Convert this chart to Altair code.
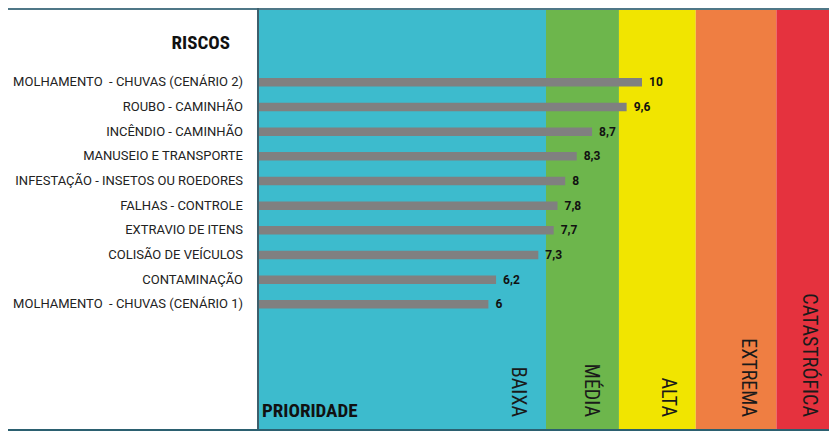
import altair as alt
import pandas as pd

# ---- data ----
riscos = [
    "MOLHAMENTO\u00a0 - CHUVAS (CENÁRIO 2)",
    "ROUBO - CAMINHÃO",
    "INCÊNDIO - CAMINHÃO",
    "MANUSEIO E TRANSPORTE",
    "INFESTAÇÃO - INSETOS OU ROEDORES",
    "FALHAS - CONTROLE",
    "EXTRAVIO DE ITENS",
    "COLISÃO DE VEÍCULOS",
    "CONTAMINAÇÃO",
    "MOLHAMENTO\u00a0 - CHUVAS (CENÁRIO 1)",
]
valores = [10, 9.6, 8.7, 8.3, 8, 7.8, 7.7, 7.3, 6.2, 6]

faixas = ["BAIXA", "MÉDIA", "ALTA", "EXTREMA", "CATASTRÓFICA"]
faixa_inicio = [0, 7.5, 9.4, 11.4, 13.5]
faixa_fim = [7.5, 9.4, 11.4, 13.5, 15.08]
faixa_cores = ["#3dbbcd", "#6db64c", "#f1e500", "#ef7e42", "#e5323e"]

df = pd.DataFrame({
    "risco": riscos,
    "valor": valores,
    "ordem": list(range(len(riscos))),
})
df["rotulo"] = [("%g" % v).replace(".", ",") for v in valores]

bandas = pd.DataFrame({
    "faixa": faixas,
    "inicio": faixa_inicio,
    "fim": faixa_fim,
})

W, H = 571, 421
xs = alt.Scale(domain=[0, 14.87], nice=False, zero=False)
ys = alt.Scale(domain=[-2.81, 13.85], nice=False, zero=False, reverse=True)

NARROW = "Liberation Sans Narrow, Roboto Condensed, DejaVu Sans Condensed, sans-serif"

fundo = alt.Chart(bandas).mark_rect(clip=True).encode(
    x=alt.X("inicio:Q", scale=xs, axis=None),
    x2="fim:Q",
    color=alt.Color("faixa:N", scale=alt.Scale(domain=faixas, range=faixa_cores), legend=None),
)

rot_faixas = alt.Chart(bandas).mark_text(
    angle=90, align="right", baseline="alphabetic", xOffset=-34,
    font=NARROW, fontSize=20, color="#1a1a1a",
).encode(
    x=alt.X("fim:Q", scale=xs, axis=None),
    y=alt.value(H - 12),
    text="faixa:N",
)

barras = alt.Chart(df).mark_bar(orient="horizontal", size=8.5, color="#808080").encode(
    x=alt.X("valor:Q", scale=xs, axis=None),
    y=alt.Y("ordem:Q", scale=ys, axis=None),
)

rot_valores = alt.Chart(df).mark_text(
    align="left", baseline="middle", dx=7, font="Roboto", fontWeight="bold",
    fontSize=12, color="#111111",
).encode(
    x=alt.X("valor:Q", scale=xs, axis=None),
    y=alt.Y("ordem:Q", scale=ys, axis=None),
    text="rotulo:N",
)

nomes = alt.Chart(df).mark_text(
    align="right", baseline="middle", font="Roboto", fontSize=13, color="#222222",
).encode(
    x=alt.value(-15),
    y=alt.Y("ordem:Q", scale=ys, axis=None),
    text="risco:N",
)

titulo_riscos = alt.Chart(pd.DataFrame({"t": ["RISCOS"]})).mark_text(
    align="right", baseline="middle", font=NARROW, fontWeight="bold",
    fontSize=19, color="#111111",
).encode(x=alt.value(-28), y=alt.value(34.5), text="t:N")

titulo_prior = alt.Chart(pd.DataFrame({"t": ["PRIORIDADE"]})).mark_text(
    align="left", baseline="alphabetic", font=NARROW, fontWeight="bold",
    fontSize=19, color="#111111",
).encode(x=alt.value(4), y=alt.value(H - 12), text="t:N")

linha_topo = alt.Chart(pd.DataFrame({"a": [0]})).mark_rule(
    color="#4f7787", strokeWidth=2
).encode(x=alt.value(-250), x2=alt.value(W), y=alt.value(1))

linha_base = alt.Chart(pd.DataFrame({"a": [0]})).mark_rule(
    color="#2b6070", strokeWidth=2
).encode(x=alt.value(-250), x2=alt.value(W), y=alt.value(H + 1))

linha_esq = alt.Chart(pd.DataFrame({"a": [0]})).mark_rule(
    color="#3d5f6c", strokeWidth=2
).encode(x=alt.X("a:Q", scale=xs, axis=None), y=alt.value(0), y2=alt.value(H))

chart = alt.layer(
    fundo, rot_faixas, barras, rot_valores, nomes,
    titulo_riscos, titulo_prior, linha_topo, linha_base, linha_esq,
).properties(
    width=W, height=H,
    padding={"left": 250, "top": 0, "right": 0, "bottom": 2},
    autosize=alt.AutoSizeParams(type="none"),
).configure_view(stroke=None).configure(background="white")

chart.save("out.html", embed_options={"renderer": "svg", "actions": False})
